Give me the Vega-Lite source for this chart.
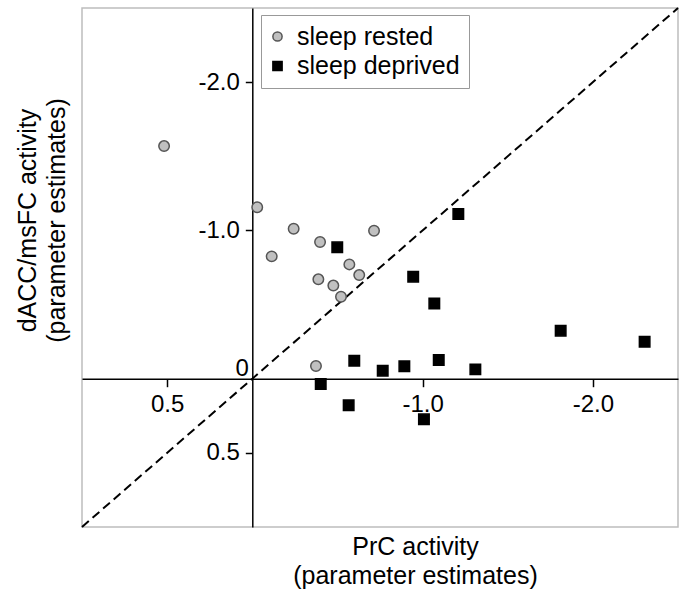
{
  "$schema": "https://vega.github.io/schema/vega-lite/v6.json",
  "width": 596,
  "height": 519,
  "autosize": "none",
  "padding": {"left": 82, "top": 8, "right": 13, "bottom": 73},
  "background": "white",
  "config": {
    "view": {"stroke": "#bdbdbd", "strokeWidth": 1.5},
    "font": "Liberation Sans",
    "legend": {
      "orient": "none",
      "legendX": 179,
      "legendY": 7,
      "title": null,
      "labelFont": "Liberation Sans",
      "labelFontSize": 25,
      "labelColor": "black",
      "labelLimit": 400,
      "symbolSize": 85,
      "symbolStrokeWidth": 1.5,
      "strokeColor": "#999999",
      "fillColor": "white",
      "padding": 9,
      "rowPadding": 3.5,
      "symbolOffset": -5,
      "labelOffset": 7
    }
  },
  "encoding": {
    "x": {
      "field": "x",
      "type": "quantitative",
      "scale": {"domain": [-2.5, 1], "reverse": true, "nice": false, "zero": false},
      "axis": {
        "title": ["PrC activity", "(parameter estimates)"],
        "orient": "bottom",
        "offset": -148.3,
        "values": [0.5, -1, -2],
        "labelExpr": "datum.value == 0 ? '0' : (datum.value < 0 ? '-' + format(-datum.value, '.1f') : format(datum.value, '.1f'))",
        "grid": false,
        "domainColor": "black",
        "domainWidth": 1.5,
        "tickColor": "black",
        "tickWidth": 1.5,
        "tickSize": 8,
        "labelFont": "Liberation Sans",
        "labelFontSize": 24,
        "labelColor": "black",
        "labelPadding": 6,
        "titleFont": "Liberation Sans",
        "titleFontSize": 25,
        "titleFontWeight": "normal",
        "titleColor": "black",
        "titleLineHeight": 29,
        "titleX": 333,
        "titleY": 156
      }
    },
    "y": {
      "field": "y",
      "type": "quantitative",
      "scale": {"domain": [-2.5, 1], "reverse": true, "nice": false, "zero": false},
      "axis": {
        "title": ["dACC/msFC activity", "(parameter estimates)"],
        "orient": "left",
        "offset": -170.3,
        "values": [-2, -1, 0, 0.5],
        "labelExpr": "datum.value == 0 ? '0' : (datum.value < 0 ? '-' + format(-datum.value, '.1f') : format(datum.value, '.1f'))",
        "grid": false,
        "domainColor": "black",
        "domainWidth": 1.5,
        "tickColor": "black",
        "tickWidth": 1.5,
        "tickSize": {"condition": {"test": "datum.value === 0", "value": 0}, "value": 7},
        "labelPadding": {"condition": {"test": "datum.value === 0", "value": 4}, "value": 6},
        "labelOffset": {"condition": {"test": "datum.value === 0", "value": -10}, "value": 0},
        "labelFont": "Liberation Sans",
        "labelFontSize": 24,
        "labelColor": "black",
        "titleFont": "Liberation Sans",
        "titleFontSize": 25,
        "titleFontWeight": "normal",
        "titleColor": "black",
        "titleLineHeight": 29,
        "titleX": -212,
        "titleY": 212
      }
    }
  },
  "layer": [
    {
      "data": {"values": [{"x": 1, "y": 1, "x2": -2.5, "y2": -2.5}]},
      "mark": {"type": "rule", "strokeDash": [9, 5], "strokeWidth": 2, "color": "black"},
      "encoding": {
        "x2": {"field": "x2"},
        "y2": {"field": "y2"}
      }
    },
    {
      "data": {
        "values": [
          {"group": "sleep rested", "x": 0.518, "y": -1.569},
          {"group": "sleep rested", "x": -0.029, "y": -1.156},
          {"group": "sleep rested", "x": -0.243, "y": -1.011},
          {"group": "sleep rested", "x": -0.114, "y": -0.825},
          {"group": "sleep rested", "x": -0.398, "y": -0.922},
          {"group": "sleep rested", "x": -0.388, "y": -0.670},
          {"group": "sleep rested", "x": -0.476, "y": -0.628},
          {"group": "sleep rested", "x": -0.521, "y": -0.553},
          {"group": "sleep rested", "x": -0.570, "y": -0.771},
          {"group": "sleep rested", "x": -0.628, "y": -0.699},
          {"group": "sleep rested", "x": -0.715, "y": -0.998},
          {"group": "sleep rested", "x": -0.374, "y": -0.086},
          {"group": "sleep deprived", "x": -0.499, "y": -0.886},
          {"group": "sleep deprived", "x": -1.210, "y": -1.111},
          {"group": "sleep deprived", "x": -0.945, "y": -0.688},
          {"group": "sleep deprived", "x": -1.069, "y": -0.508},
          {"group": "sleep deprived", "x": -1.811, "y": -0.324},
          {"group": "sleep deprived", "x": -2.304, "y": -0.249},
          {"group": "sleep deprived", "x": -0.599, "y": -0.121},
          {"group": "sleep deprived", "x": -0.766, "y": -0.054},
          {"group": "sleep deprived", "x": -0.893, "y": -0.084},
          {"group": "sleep deprived", "x": -1.095, "y": -0.126},
          {"group": "sleep deprived", "x": -1.310, "y": -0.063},
          {"group": "sleep deprived", "x": -0.402, "y": 0.036},
          {"group": "sleep deprived", "x": -0.566, "y": 0.179},
          {"group": "sleep deprived", "x": -1.008, "y": 0.274}
        ]
      },
      "mark": {"type": "point", "filled": true, "opacity": 1, "size": 110, "strokeWidth": 1.5},
      "encoding": {
        "shape": {
          "field": "group",
          "type": "nominal",
          "scale": {"domain": ["sleep rested", "sleep deprived"], "range": ["circle", "square"]}
        },
        "fill": {
          "field": "group",
          "type": "nominal",
          "scale": {"domain": ["sleep rested", "sleep deprived"], "range": ["#c0c0c0", "black"]}
        },
        "stroke": {
          "field": "group",
          "type": "nominal",
          "scale": {"domain": ["sleep rested", "sleep deprived"], "range": ["#555555", "black"]}
        }
      }
    }
  ]
}
